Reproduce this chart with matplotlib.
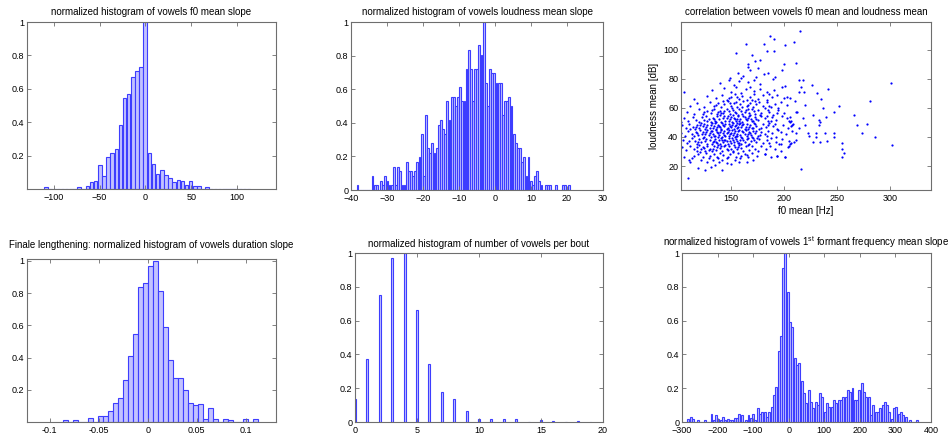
import numpy as np
import matplotlib
matplotlib.use("Agg")
import matplotlib.pyplot as plt

plt.rcParams["font.family"] = ["Liberation Sans", "DejaVu Sans"]
plt.rcParams["font.size"] = 6.5
plt.rcParams["mathtext.default"] = "regular"

##### Data
### f0 mean slope histogram (50 bins, normalised)
f0_slope_centers = (-108.25, 112.25)
f0_slope_hist = [0.01, 0, 0, 0, 0, 0, 0, 0, 0.01, 0,
                 0.016, 0.04, 0.048, 0.143, 0.079, 0.194, 0.218, 0.242, 0.385, 0.542,
                 0.567, 0.67, 0.706, 0.732, 1.0, 0.216, 0.15, 0.089, 0.111, 0.081,
                 0.063, 0.04, 0.052, 0.048, 0.022, 0.048, 0.016, 0.016, 0, 0.01,
                 0, 0, 0, 0, 0, 0, 0, 0, 0, 0]

### loudness mean slope histogram (100 bins, counts)
loud_slope_centers = (-38.2, 20.6)
loud_slope_counts = [1, 0, 0, 0, 0, 0, 0, 3, 1, 1,
                     0, 2, 1, 3, 2, 1, 1, 5, 1, 5,
                     4, 1, 1, 6, 4, 4, 3, 4, 6, 7,
                     12, 3, 16, 9, 8, 10, 8, 9, 14, 15,
                     13, 12, 19, 15, 20, 20, 18, 20, 22, 19,
                     19, 26, 30, 26, 19, 26, 26, 31, 29, 36,
                     23, 18, 26, 25, 25, 23, 23, 23, 16, 19,
                     19, 20, 18, 12, 10, 9, 9, 6, 7, 3,
                     7, 2, 1, 3, 4, 2, 1, 0, 1, 1,
                     1, 0, 0, 1, 0, 0, 1, 1, 0, 1]

### f0 mean vs loudness mean (one point per vowel)
f0_loud_points = [
    (110, 11.5), (126, 17), (142, 17.5), (131, 19.5), (119, 19), (216, 18),
    (111, 24), (112, 23), (135, 21), (128, 22.5), (139, 23), (146, 22), (154, 24.5), (158, 23),
    (142, 24), (122, 24), (165, 22.5), (150, 21.5), (133, 24.5), (171, 24),
    (106, 26), (115, 27), (119, 28), (124, 26), (127, 29), (130, 27), (134, 28.5), (137, 26),
    (140, 29), (143, 27.5), (146, 25.5), (149, 28), (152, 29.5), (155, 26.5), (157, 29), (160, 27),
    (163, 28.5), (166, 26), (170, 29), (175, 27), (182, 28), (188, 26), (194, 27), (201, 26.5),
    (147, 26.5), (138, 25.5), (129, 25.5), (121, 29.5), (113, 25.5), (159, 25.5),
    (104, 33), (108, 31), (112, 34), (115, 32), (118, 30.5), (120, 34.5), (122, 31.5), (124, 33),
    (126, 30.5), (128, 34), (130, 32), (132, 30.5), (134, 33.5), (136, 31), (138, 34.5), (140, 32.5),
    (142, 30.5), (144, 33.5), (146, 31.5), (148, 34), (150, 32), (152, 30.5), (154, 33), (156, 31.5),
    (158, 34.5), (160, 32.5), (162, 30.5), (164, 33.5), (167, 31), (170, 34), (173, 32), (176, 30.5),
    (179, 33.5), (183, 31.5), (187, 34), (192, 32), (197, 30.5), (204, 33), (133, 31.8), (141, 33.9),
    (147, 30.8), (125, 32.2), (157, 32.9), (137, 33.1), (145, 34.8), (153, 34.2), (118, 33.3),
    (129, 30.9), (166, 34.6), (206, 35),
    (105, 38), (109, 36), (113, 39), (116, 37), (118, 35.5), (120, 38.5), (122, 36.5), (124, 39.5),
    (126, 37), (128, 35.5), (130, 38), (131, 39.7), (133, 36.2), (135, 38.8), (137, 35.7), (139, 37.6),
    (141, 39.4), (143, 36.3), (145, 38.2), (147, 35.4), (149, 37.3), (151, 39.1), (153, 36.5),
    (155, 38.4), (157, 35.8), (159, 37.7), (161, 39.6), (163, 36.4), (165, 38.5), (167, 35.5),
    (169, 37.4), (171, 39.3), (174, 36.6), (177, 38.7), (180, 35.9), (184, 37.8), (188, 39.5),
    (193, 36.8), (198, 38.6), (205, 37.1), (210, 36.2), (127, 38.9), (134, 37.2), (142, 38.1),
    (146, 36.9), (150, 35.6), (156, 37), (162, 38.2), (138, 39.8), (148, 39.3), (132, 35.3),
    (154, 39.9), (144, 37.6), (119, 36.8), (136, 36.5), (158, 36.1), (166, 39.1), (172, 38.1),
    (111, 37.5), (140, 35.2), (152, 37.9), (160, 35.3), (175, 39.6), (186, 36), (196, 35.4),
    (103.5, 43), (107, 41), (110, 44), (113, 42), (115, 40.5), (117, 43.5), (119, 41.5), (121, 44.5),
    (123, 42), (125, 40.3), (127, 43.2), (129, 41.1), (131, 44.3), (133, 42.2), (135, 40.4),
    (137, 43.4), (139, 41.6), (141, 44.6), (143, 42.5), (145, 40.7), (147, 43.7), (149, 41.8),
    (151, 44.8), (153, 42.7), (155, 40.9), (157, 43.9), (159, 41.2), (161, 44.1), (163, 42.3),
    (165, 40.6), (167, 43.1), (169, 41.4), (171, 44.4), (173, 42.6), (176, 40.8), (179, 43.6),
    (182, 41.9), (185, 44.2), (189, 42.4), (193, 40.2), (197, 43.3), (202, 41.7), (208, 44),
    (212, 42.8), (126, 41.9), (132, 43.8), (138, 42.9), (144, 41.3), (150, 43), (156, 42.1),
    (162, 43.5), (168, 42.9), (136, 44.9), (142, 40.1), (148, 40.9), (154, 44.4), (160, 40.2),
    (146, 42.8), (140, 43.2), (152, 41.5), (158, 44.6), (130, 42.6), (124, 43.7), (118, 42.4),
    (134, 40.9), (164, 44.9), (174, 43.8), (178, 41.2), (128, 44.8), (166, 42), (184, 40.6),
    (195, 44.7), (170, 40.3), (144, 44.1), (156, 40.5),
    (104, 48), (108, 46), (111, 49), (114, 47), (116, 45.5), (118, 48.5), (120, 46.3), (122, 49.4),
    (124, 47.2), (126, 45.4), (128, 48.3), (130, 46.4), (132, 49.6), (134, 47.4), (136, 45.6),
    (138, 48.5), (140, 46.6), (142, 49.7), (144, 47.6), (146, 45.8), (148, 48.7), (150, 46.8),
    (152, 49.8), (154, 47.8), (156, 45.9), (158, 48.9), (160, 46.9), (162, 49.2), (164, 47.1),
    (166, 45.3), (168, 48.2), (170, 46.2), (172, 49.3), (174, 47.3), (177, 45.7), (180, 48.6),
    (183, 46.7), (186, 49.5), (190, 47.5), (194, 45.2), (199, 48.1), (204, 46.5), (209, 49.1),
    (207, 47.7), (131, 47.9), (137, 46.9), (143, 48.1), (149, 47.3), (155, 48.4), (161, 47.9),
    (167, 46.6), (135, 49.9), (141, 45.3), (147, 46.3), (153, 45.4), (159, 49.9), (145, 49.1),
    (139, 47.2), (151, 48.2), (157, 47.1), (127, 46.8), (121, 47.9), (133, 45.9), (163, 45.6),
    (173, 48.9), (179, 46.1), (165, 48.6), (185, 47.9), (192, 48.8), (117, 46.9), (125, 49),
    (112, 45.6), (148, 45.1), (156, 49.5), (171, 45.9),
    (103.5, 50), (106, 53), (110, 51), (114, 54), (117, 52), (120, 50.5), (123, 53.5), (125, 51.5),
    (127, 54.4), (129, 52.3), (131, 50.4), (133, 53.3), (135, 51.2), (137, 54.2), (139, 52.1),
    (141, 50.3), (143, 53.2), (145, 51.1), (147, 54.1), (149, 52.2), (151, 50.2), (153, 53.1),
    (155, 51.3), (157, 54.3), (159, 52.4), (161, 50.6), (163, 53.4), (165, 51.5), (167, 54.5),
    (169, 52.6), (171, 50.7), (173, 53.6), (176, 51.6), (179, 54.6), (182, 52.7), (185, 50.8),
    (189, 53.7), (193, 51.7), (198, 54.7), (203, 52.8), (206, 50.5), (205, 51.2), (233, 51.4),
    (146, 52.9), (152, 54.8), (158, 50.9), (164, 52.1), (140, 54.9), (134, 52.6), (156, 52.6),
    (162, 54.7), (170, 51.1), (148, 50.7), (136, 50.3), (128, 50.9), (144, 54.6), (174, 52.4),
    (184, 54.2), (188, 51.1), (154, 52.3), (150, 53.9), (166, 53.3),
    (109, 57), (115, 56), (120, 59), (124, 55.5), (128, 58), (131, 56.5), (134, 59.2), (137, 55.6),
    (140, 58.1), (143, 56.2), (146, 59.3), (149, 55.8), (152, 58.3), (155, 56.4), (158, 59.4),
    (161, 55.9), (164, 58.4), (167, 56.5), (170, 59.5), (173, 55.7), (176, 58.5), (179, 56.6),
    (182, 59.6), (186, 57.2), (190, 55.4), (195, 58.6), (200, 56.8), (212, 57), (228, 55),
    (240, 54), (247, 57), (148, 57.5), (154, 57.2), (160, 57.7), (166, 58.9), (138, 57.4),
    (144, 57.9), (132, 58.5), (157, 55.3), (163, 56.9), (151, 59.7), (172, 57.6), (178, 55.4),
    (125, 57.3), (141, 56.7), (185, 58.4), (194, 56.5), (168, 55.2),
    (112, 61), (118, 63), (125, 60.5), (130, 64), (134, 61.5), (138, 63.5), (141, 60.3), (144, 62.7),
    (147, 64.5), (150, 61.2), (153, 63.4), (156, 60.6), (159, 62.5), (162, 64.6), (165, 61.1),
    (168, 63.3), (171, 60.4), (174, 62.8), (177, 64.3), (180, 61.6), (184, 63.7), (188, 60.8),
    (192, 62.9), (197, 64.1), (203, 61.9), (220.5, 62), (237, 60), (252, 61.5), (281, 64.5),
    (155, 64.2), (161, 60.9), (149, 63), (143, 64.8), (166, 62.2), (173, 64.9), (136, 62.1),
    (186, 61.5), (195, 60.2),
    (115, 66), (128, 68), (136, 66.5), (142, 69), (146, 65.5), (150, 67.5), (154, 69.4), (158, 66.2),
    (161, 68.3), (165, 65.7), (168, 67.7), (172, 69.3), (176, 66.4), (180, 68.6), (184, 65.3),
    (189, 67.2), (194, 69.1), (200, 66.6), (203, 67.7), (205.5, 67), (210.5, 65), (235, 66),
    (156, 67.6), (148, 66.8), (170, 65.6), (186, 69.6),
    (106, 71), (132, 72), (144, 73.5), (150, 71), (155, 74.2), (160, 70.5), (164, 72.8), (168, 74.6),
    (172, 71.4), (178, 73.2), (184, 70.8), (191, 72.6), (198, 74.1), (214.6, 71), (216, 74),
    (219, 71), (242, 73), (201, 75), (231, 70),
    (140, 77), (148, 79), (153, 76), (158, 78.5), (166, 77.5), (172, 79.4), (178, 76.2), (190, 79.6),
    (214.6, 79), (218, 79), (227, 75.5), (301, 77),
    (149, 80.5), (157, 84), (162, 82), (168, 86), (174, 81.5), (181, 83.5), (185, 84), (192, 81),
    (198, 86), (166.5, 88), (176, 87.5), (160, 80.8),
    (155, 97.5), (166.5, 90), (170, 96), (173, 92), (184, 99), (191, 99), (200, 90), (211.5, 90.6),
    (178, 93),
    (164, 104), (181, 104), (187, 109.5), (191, 107), (201, 103), (210, 105), (215, 113),
    (230, 42.5), (230.5, 40), (234, 36.5), (239, 42.5), (241, 37), (247, 42.5), (247.4, 40),
    (255, 31.7), (254.8, 26), (257, 28.7), (255, 36), (266, 55), (269, 48), (274, 42.5),
    (278.5, 48.7), (286.6, 40), (302, 34.5), (233.5, 48), (234, 50), (222.5, 43), (227.5, 36.7),
    (208, 48), (206, 53.5), (212.7, 57), (207, 51), (207, 36), (205, 33.8), (201, 26.4),
    (194, 27), (197, 35), (182, 28), (165.6, 27.6), (214, 46), (212, 38), (218, 53), (220, 48),
    (224, 41),
]
f0_mean_hz = [p[0] for p in f0_loud_points]
loudness_mean_db = [p[1] for p in f0_loud_points]

### duration slope histogram (39 bins, normalised)
dur_slope_centers = (-0.0836, 0.1094)
dur_slope_hist = [0.01, 0, 0.01, 0, 0, 0.025, 0, 0.035, 0.04, 0.07,
                  0.12, 0.146, 0.26, 0.41, 0.545, 0.84, 0.865, 0.97, 1.0, 0.81,
                  0.59, 0.385, 0.27, 0.27, 0.20, 0.12, 0.105, 0.11, 0.02, 0.085,
                  0.02, 0, 0.02, 0.01, 0, 0, 0.02, 0, 0.02]

### vowels per bout
vowels_per_bout = list(range(20))
vowels_per_bout_hist = [0.136, 0.37, 0.75, 0.97, 1.0, 0.66, 0.345, 0.178, 0.136, 0.065,
                        0.018, 0.02, 0.018, 0.015, 0, 0.01, 0.006, 0, 0.006, 0]

### F1 mean slope histogram (100 bins, normalised)
f1_slope_centers = (-282.0, 361.5)
f1_slope_hist = [0.02, 0.03, 0.02, 0, 0.01, 0, 0, 0.01, 0, 0,
                 0.05, 0.01, 0.04, 0.02, 0.01, 0.03, 0.01, 0.02, 0.01, 0.01,
                 0.025, 0.025, 0.05, 0.04, 0, 0.01, 0.04, 0.025, 0.05, 0.01,
                 0.08, 0.05, 0.06, 0.06, 0.03, 0.06, 0.09, 0.16, 0.21, 0.42,
                 0.51, 0.91, 1.0, 0.77, 0.59, 0.56, 0.38, 0.34, 0.35, 0.24,
                 0.17, 0.11, 0.19, 0.12, 0.08, 0.12, 0.10, 0.17, 0.15, 0.06,
                 0.11, 0.09, 0.09, 0.13, 0.11, 0.13, 0.13, 0.15, 0.15, 0.19,
                 0.18, 0.20, 0.13, 0.13, 0.19, 0.23, 0.18, 0.15, 0.15, 0.04,
                 0.10, 0.06, 0.06, 0.08, 0.10, 0.12, 0.10, 0.06, 0.02, 0.08,
                 0.09, 0.05, 0.06, 0.04, 0.03, 0, 0.01, 0, 0, 0.01]

FACE = "#c2c2ff"
EDGE = "#3d3dff"
FRAME = "#6e6e6e"
TITLE_FS = 7


def style_axes(ax):
    for s in ax.spines.values():
        s.set_color(FRAME)
        s.set_linewidth(0.8)
    ax.tick_params(direction="in", length=3, width=0.6, color=FRAME,
                   top=True, right=True, labelsize=6.5, pad=2)
    ax.tick_params(axis="x", pad=3)


def hist_bars(ax, rng, heights, frac=0.85):
    centers = np.linspace(rng[0], rng[1], len(heights))
    step = centers[1] - centers[0]
    ax.bar(centers, heights, width=step * frac, color=FACE, edgecolor=EDGE,
           linewidth=0.8)


fig = plt.figure(figsize=(9.5, 4.4), dpi=100)

### Top left
ax1 = fig.add_axes([0.0284, 0.5705, 0.262, 0.3795])
hist_bars(ax1, f0_slope_centers, f0_slope_hist)
ax1.set_xlim(-129, 142)
ax1.set_ylim(0, 1)
ax1.set_xticks([-100, -50, 0, 50, 100])
ax1.set_yticks([0.2, 0.4, 0.6, 0.8, 1])
ax1.set_yticklabels(["0.2", "0.4", "0.6", "0.8", "1"])
ax1.set_title("normalized histogram of vowels f0 mean slope", fontsize=TITLE_FS, pad=5)
style_axes(ax1)

### Top middle
ax2 = fig.add_axes([0.3695, 0.568, 0.2653, 0.382])
loud_hist = np.array(loud_slope_counts) / max(loud_slope_counts)
hist_bars(ax2, loud_slope_centers, loud_hist)
ax2.set_xlim(-40, 30)
ax2.set_ylim(0, 1)
ax2.set_xticks([-40, -30, -20, -10, 0, 10, 20, 30])
ax2.set_yticks([0, 0.2, 0.4, 0.6, 0.8, 1])
ax2.set_yticklabels(["0", "0.2", "0.4", "0.6", "0.8", "1"])
ax2.set_title("normalized histogram of vowels loudness mean slope", fontsize=TITLE_FS, pad=5)
style_axes(ax2)

### Top right
ax3 = fig.add_axes([0.7168, 0.568, 0.2632, 0.382])
ax3.plot(f0_mean_hz, loudness_mean_db, ".", color="#0000ff", markersize=3.2,
         markeredgewidth=0)
ax3.set_xlim(103, 339)
ax3.set_ylim(3.5, 119)
ax3.set_xticks([150, 200, 250, 300])
ax3.set_yticks([20, 40, 60, 80, 100])
ax3.set_xlabel("f0 mean [Hz]", fontsize=TITLE_FS, labelpad=2)
ax3.set_ylabel("loudness mean [dB]", fontsize=TITLE_FS, labelpad=3)
ax3.set_title("correlation between vowels f0 mean and loudness mean", fontsize=TITLE_FS, pad=5)
style_axes(ax3)

### Bottom left
ax4 = fig.add_axes([0.0284, 0.0409, 0.262, 0.370])
hist_bars(ax4, dur_slope_centers, dur_slope_hist, frac=0.95)
ax4.set_xlim(-0.123, 0.1305)
ax4.set_ylim(0, 1.01)
ax4.set_xticks([-0.1, -0.05, 0, 0.05, 0.1])
ax4.set_xticklabels(["-0.1", "-0.05", "0", "0.05", "0.1"])
ax4.set_yticks([0.2, 0.4, 0.6, 0.8, 1])
ax4.set_yticklabels(["0.2", "0.4", "0.6", "0.8", "1"])
ax4.set_title("Finale lengthening: normalized histogram of vowels duration slope",
              fontsize=TITLE_FS, pad=8)
style_axes(ax4)

### Bottom middle
ax5 = fig.add_axes([0.3737, 0.0409, 0.261, 0.384])
ax5.bar(vowels_per_bout, vowels_per_bout_hist, width=0.15, color=FACE,
        edgecolor=EDGE, linewidth=0.8)
ax5.set_xlim(0, 20)
ax5.set_ylim(0, 1)
ax5.set_xticks([0, 5, 10, 15, 20])
ax5.set_yticks([0, 0.2, 0.4, 0.6, 0.8, 1])
ax5.set_yticklabels(["0", "0.2", "0.4", "0.6", "0.8", "1"])
ax5.set_title("normalized histogram of number of vowels per bout", fontsize=TITLE_FS, pad=4)
style_axes(ax5)

### Bottom right
ax6 = fig.add_axes([0.7179, 0.0409, 0.262, 0.384])
hist_bars(ax6, f1_slope_centers, f1_slope_hist)
ax6.set_xlim(-300, 400)
ax6.set_ylim(0, 1)
ax6.set_xticks([-300, -200, -100, 0, 100, 200, 300, 400])
ax6.set_yticks([0, 0.2, 0.4, 0.6, 0.8, 1])
ax6.set_yticklabels(["0", "0.2", "0.4", "0.6", "0.8", "1"])
ax6.set_title("normalized histogram of vowels 1$^{st}$ formant frequency mean slope",
              fontsize=TITLE_FS, pad=5)
style_axes(ax6)

fig.savefig("out.png", dpi=100)
